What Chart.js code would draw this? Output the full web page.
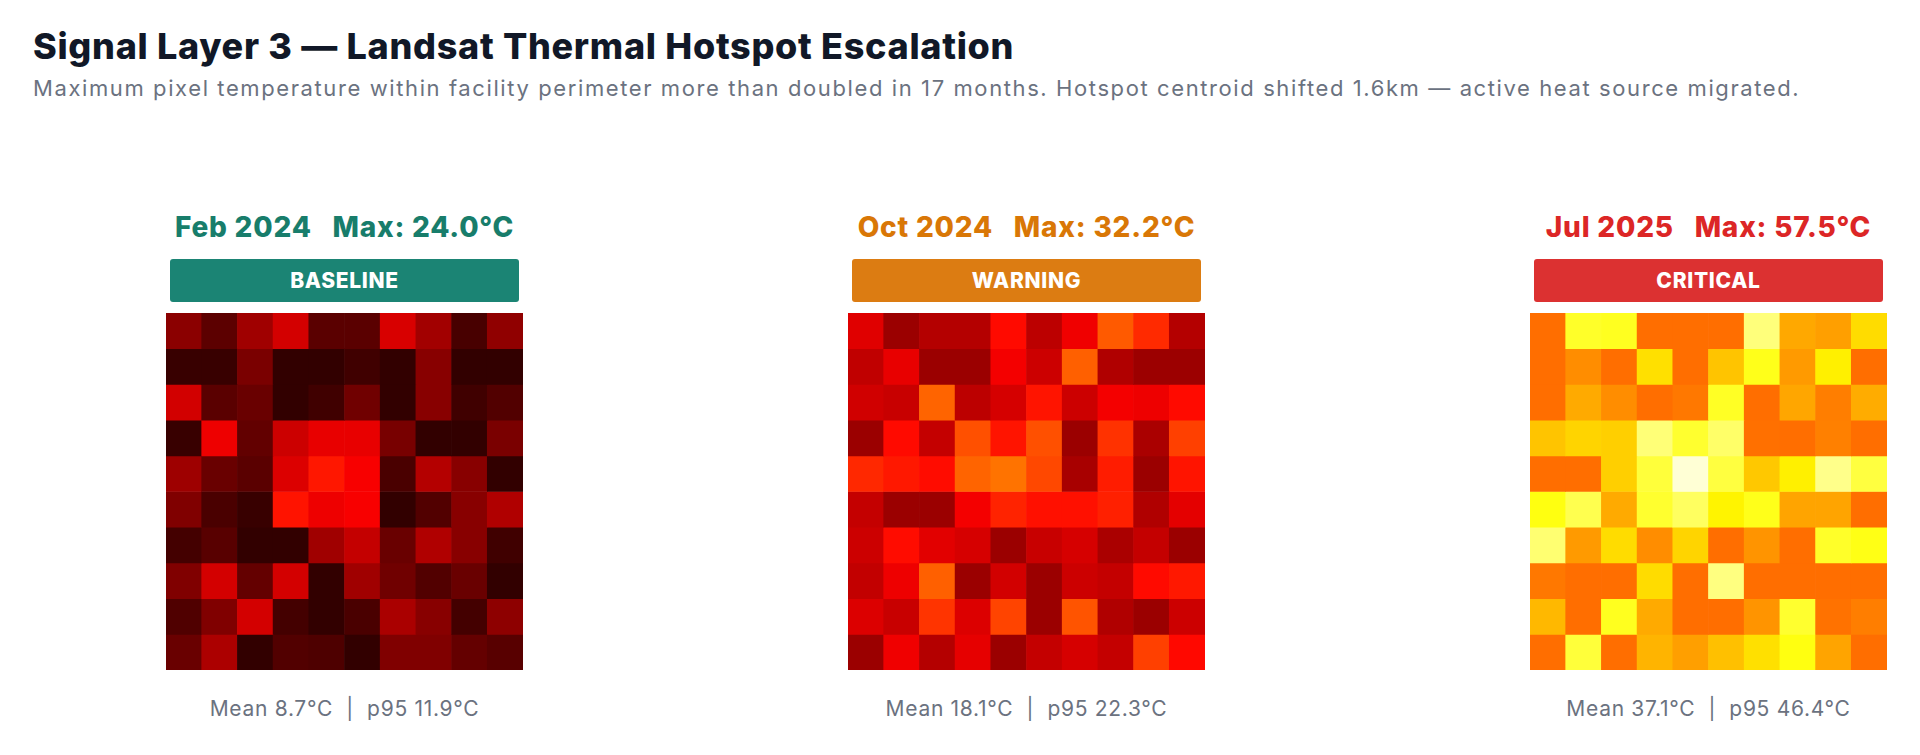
<!DOCTYPE html>
<html>
<head>
<meta charset="utf-8">
<script src="https://cdn.jsdelivr.net/npm/chart.js@4.4.1/dist/chart.umd.min.js"></script>
<style>
  body { margin: 0; background: #fff; font-family: Inter, "Open Sans", sans-serif; }
  #page { position: relative; width: 1920px; height: 755px; overflow: hidden; }
  h1 { position: absolute; left: 33px; top: 24px; margin: 0; font-size: 36px; font-weight: 800; color: #111827; letter-spacing: 0.7px; }
  .sub { position: absolute; left: 33px; top: 75px; margin: 0; font-size: 22px; color: #6b7280; letter-spacing: 1.6px; }
  .panel { position: absolute; top: 0; width: 357px; }
  .ptitle { position: absolute; top: 210px; width: 357px; text-align: center; font-size: 28px; font-weight: 800; white-space: pre; letter-spacing: 0.8px; }
  .badge { position: absolute; top: 259px; left: 4px; width: 349px; height: 43px; border-radius: 3px; color: #fff; font-weight: 800; font-size: 21px; line-height: 43px; text-align: center; letter-spacing: 0.7px; }
  .cv { position: absolute; top: 313px; left: 0; width: 357px; height: 357px; }
  .foot { position: absolute; top: 696px; width: 357px; text-align: center; font-size: 21px; color: #6b7280; white-space: pre; letter-spacing: 0.7px; }
</style>
</head>
<body>
<div id="page">
  <h1>Signal Layer 3 — Landsat Thermal Hotspot Escalation</h1>
  <p class="sub">Maximum pixel temperature within facility perimeter more than doubled in 17 months. Hotspot centroid shifted 1.6km — active heat source migrated.</p>
</div>
<script>
// temperature grids (°C), rows top to bottom
const feb2024 = [
  [11.5, 7.3, 13.4, 18.0, 7.1, 7.1, 18.4, 13.6, 5.5, 12.0],
  [4.1, 4.1, 10.0, 3.5, 3.5, 4.8, 3.5, 11.2, 3.5, 3.5],
  [17.9, 7.1, 8.5, 3.5, 4.8, 9.1, 3.5, 11.2, 4.8, 6.4],
  [4.1, 20.4, 7.8, 17.3, 19.8, 19.8, 9.8, 3.5, 3.5, 10.0],
  [13.2, 8.5, 7.1, 18.8, 24.0, 21.3, 5.7, 15.2, 11.2, 3.5],
  [10.5, 5.7, 4.1, 23.6, 20.4, 21.3, 3.5, 6.4, 11.2, 14.8],
  [5.1, 6.9, 3.5, 3.5, 13.4, 16.6, 8.5, 14.8, 11.2, 4.8],
  [10.5, 18.0, 8.0, 18.0, 3.5, 13.4, 9.1, 6.4, 8.5, 3.5],
  [6.2, 10.5, 18.0, 5.1, 3.5, 5.7, 14.3, 11.2, 5.1, 11.8],
  [8.5, 14.5, 3.5, 6.4, 6.0, 3.5, 10.5, 10.5, 8.0, 6.9]
];
const oct2024 = [
  [19.1, 12.9, 15.2, 15.2, 22.8, 15.9, 20.6, 30.0, 25.7, 15.2],
  [16.3, 19.8, 12.9, 12.9, 20.9, 17.3, 30.5, 14.8, 13.0, 13.0],
  [17.7, 17.0, 30.9, 15.9, 18.1, 23.7, 17.3, 20.9, 20.4, 22.8],
  [12.9, 22.8, 16.6, 29.1, 23.7, 29.1, 12.9, 26.4, 14.3, 27.6],
  [25.5, 24.1, 23.0, 30.9, 32.2, 28.4, 14.1, 24.4, 12.9, 23.7],
  [16.6, 12.9, 12.9, 20.9, 25.0, 23.3, 23.3, 24.8, 14.8, 19.5],
  [17.3, 23.0, 19.3, 18.2, 12.9, 17.0, 18.2, 14.3, 16.6, 12.9],
  [16.4, 20.4, 30.5, 12.9, 17.9, 12.9, 17.3, 16.6, 22.8, 24.1],
  [18.8, 17.0, 26.6, 18.8, 28.0, 12.9, 29.4, 14.8, 12.9, 17.3],
  [12.9, 20.6, 15.2, 19.7, 12.9, 16.6, 18.2, 16.6, 27.6, 22.6]
];
const jul2025 = [
  [31.8, 47.2, 46.7, 31.8, 31.8, 31.8, 52.1, 37.0, 36.2, 41.6],
  [31.8, 34.5, 31.8, 42.0, 31.8, 39.5, 46.3, 35.7, 43.4, 31.8],
  [31.8, 37.1, 34.5, 31.8, 32.7, 47.0, 31.8, 36.8, 33.2, 37.3],
  [39.5, 40.9, 40.5, 51.9, 47.6, 51.0, 31.9, 31.8, 33.4, 31.8],
  [31.8, 31.8, 40.5, 48.3, 57.5, 48.6, 39.8, 43.4, 53.0, 48.6],
  [45.7, 49.5, 37.1, 47.6, 50.5, 43.8, 46.3, 36.6, 36.6, 31.8],
  [51.5, 35.7, 41.6, 34.5, 40.9, 31.8, 35.2, 31.8, 47.2, 46.0],
  [32.7, 31.8, 31.8, 41.6, 31.8, 52.4, 31.8, 31.8, 31.8, 31.8],
  [38.4, 31.8, 46.6, 37.1, 31.8, 31.8, 35.2, 47.6, 32.1, 33.2],
  [31.8, 48.2, 31.8, 38.0, 36.2, 39.1, 42.0, 45.7, 36.6, 31.8]
];

const dates = ['Feb 2024', 'Oct 2024', 'Jul 2025'];
const maxLabels = ['24.0°C', '32.2°C', '57.5°C'];
const statuses = ['BASELINE', 'WARNING', 'CRITICAL'];
const means = ['8.7°C', '18.1°C', '37.1°C'];
const p95s = ['11.9°C', '22.3°C', '46.4°C'];
const grids = [feb2024, oct2024, jul2025];
const columns = ['0', '1', '2', '3', '4', '5', '6', '7', '8', '9'];

const textColors = ['#187d6b', '#d97706', '#dc2626'];
const badgeColors = ['#1b8474', '#dc7c12', '#dc3131'];
const lefts = [166, 848, 1530];
const VMAX = 60;

// matplotlib "hot"
function hot(v) {
  const t = Math.max(0, Math.min(1, v / VMAX));
  const r = t < 0.365079 ? 0.0416 + (1 - 0.0416) * t / 0.365079 : 1;
  const g = t < 0.365079 ? 0 : (t < 0.746032 ? (t - 0.365079) / 0.380953 : 1);
  const b = t < 0.746032 ? 0 : (t - 0.746032) / 0.253968;
  return `rgb(${Math.round(r * 255)}, ${Math.round(g * 255)}, ${Math.round(b * 255)})`;
}

const page = document.getElementById('page');

grids.forEach((grid, k) => {
  const panel = document.createElement('div');
  panel.className = 'panel';
  panel.style.left = lefts[k] + 'px';
  panel.innerHTML =
    `<div class="ptitle" style="color:${textColors[k]}">${dates[k]}   Max: ${maxLabels[k]}</div>` +
    `<div class="badge" style="background:${badgeColors[k]}">${statuses[k]}</div>` +
    `<div class="cv"><canvas id="heat${k}" width="357" height="357"></canvas></div>` +
    `<div class="foot">Mean ${means[k]}  |  p95 ${p95s[k]}</div>`;
  page.appendChild(panel);

  new Chart(document.getElementById('heat' + k), {
    type: 'bar',
    data: {
      labels: columns,
      datasets: grid.map((row, i) => ({
        label: 'row ' + i,
        data: row.map(() => 1),
        temps: row,
        backgroundColor: row.map(hot),
        borderWidth: 0,
        barPercentage: 1,
        categoryPercentage: 1
      }))
    },
    options: {
      responsive: false,
      animation: false,
      layout: { padding: 0 },
      scales: {
        x: { stacked: true, display: false },
        y: { stacked: true, display: false, reverse: true, min: 0, max: 10 }
      },
      plugins: {
        legend: { display: false },
        tooltip: {
          callbacks: {
            title: () => '',
            label: ctx => ctx.dataset.temps[ctx.dataIndex].toFixed(1) + '°C'
          }
        }
      }
    }
  });
});
</script>
</body>
</html>
